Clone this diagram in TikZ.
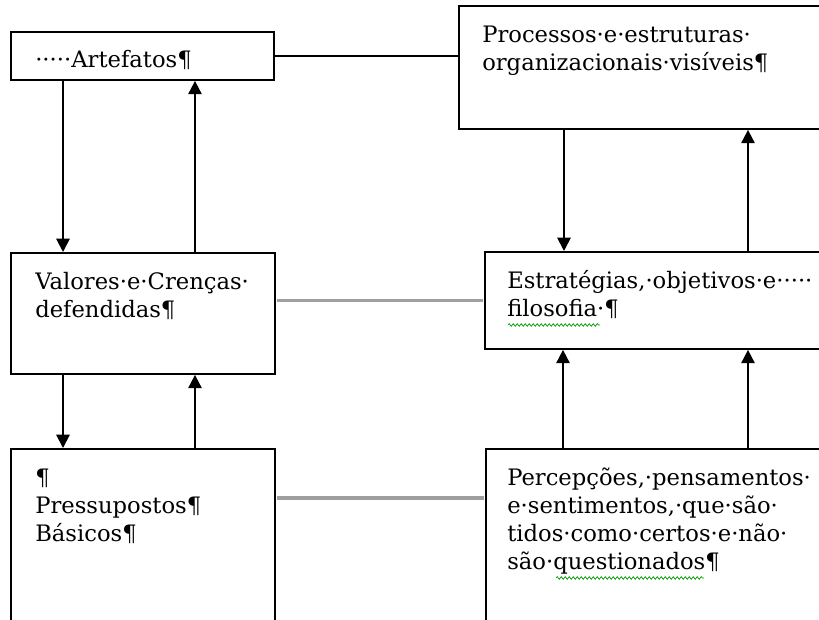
\documentclass[tikz,border=0pt]{standalone}
\usepackage{fontspec}
\setmainfont{DejaVu Serif}
\usetikzlibrary{arrows.meta,calc,decorations.pathmorphing}

\newcommand{\px}{0.75pt}
\newcommand{\linhas}[1]{\begin{tabular}[t]{@{}l@{}}#1\end{tabular}}

\tikzset{
  caixa/.style={draw,line width=1.4pt,anchor=north west,inner sep=0pt},
  texto/.style={anchor=base west,inner sep=0pt,font=\fontsize{17}{21}\selectfont},
  seta/.style={line width=1.4pt,-{Triangle[width=10pt,length=10pt]}},
  ligacao/.style={line width=1.4pt},
  cinza/.style={gray!75,line width=2.5pt,shorten <=0.7pt,shorten >=0.7pt},
  onda/.style={green!60!black,line width=0.5pt,decorate,
    decoration={snake,amplitude=1pt,segment length=3pt}}
}

\begin{document}
\begin{tikzpicture}[x=\px,y=-\px]

  \useasboundingbox (0,0) rectangle (819,619);
  \clip (0,0) rectangle (819,619);

  % Caixas
  \node[caixa,minimum width=263*\px,minimum height=48*\px]  (artefatos)    at (10,31)  {};
  \node[caixa,minimum width=380*\px,minimum height=123*\px] (processos)    at (458,5)  {};
  \node[caixa,minimum width=264*\px,minimum height=121*\px] (valores)      at (10,252) {};
  \node[caixa,minimum width=350*\px,minimum height=97*\px]  (estrategias)  at (484,251) {};
  \node[caixa,minimum width=264*\px,minimum height=200*\px] (pressupostos) at (10,448) {};
  \node[caixa,minimum width=350*\px,minimum height=200*\px] (percepcoes)   at (485,448) {};

  % Textos
  \node[texto] (t-artefatos)    at ($(artefatos.north west)+(25,36)$)    {·····Artefatos¶};
  \node[texto] (t-processos)    at ($(processos.north west)+(24,37)$)    {\linhas{Processos·e·estruturas·\\organizacionais·visíveis¶}};
  \node[texto] (t-valores)      at ($(valores.north west)+(25,37)$)      {\linhas{Valores·e·Crenças·\\defendidas¶}};
  \node[texto] (t-estrategias)  at ($(estrategias.north west)+(23,37)$)  {\linhas{Estratégias,·objetivos·e·····\\filosofia·¶}};
  \node[texto] (t-pressupostos) at ($(pressupostos.north west)+(25,37)$) {\linhas{¶\\Pressupostos¶\\Básicos¶}};
  \node[texto] (t-percepcoes)   at ($(percepcoes.north west)+(22,37)$)   {\linhas{Percepções,·pensamentos·\\e·sentimentos,·que·são·\\tidos·como·certos·e·não·\\são·questionados¶}};

  % Sublinhado ondulado
  \draw[onda] ($(estrategias.north west)+(24,74)$) -- ++(92,0);
  \draw[onda] ($(percepcoes.north west)+(71,130)$) -- ++(148,0);

  % Ligacoes horizontais
  \draw[ligacao] (artefatos.east) -- (artefatos.east -| processos.west);
  \draw[cinza] (estrategias.west -| valores.east) -- (estrategias.west);
  \coordinate (m-baixo) at ($(percepcoes.north west)+(0,50)$);
  \draw[cinza] (m-baixo -| pressupostos.east) -- (m-baixo);

  % Setas da coluna esquerda
  \foreach \a/\b in {artefatos/valores, valores/pressupostos} {
    \coordinate (desce) at ($(\a.south west)+(53,0)$);
    \coordinate (sobe)  at ($(\a.south west)+(185,0)$);
    \draw[seta] (desce) -- (desce |- \b.north);
    \draw[seta] (sobe |- \b.north) -- (sobe);
  }

  % Setas da coluna direita
  \coordinate (p-desce) at ($(processos.south west)+(106,0)$);
  \coordinate (p-sobe)  at ($(estrategias.north west)+(264,0)$);
  \draw[seta] (p-desce) -- (p-desce |- estrategias.north);
  \draw[seta] (p-sobe) -- (p-sobe |- processos.south);
  \foreach \dx in {78,263} {
    \coordinate (q-sobe) at ($(percepcoes.north west)+(\dx,0)$);
    \draw[seta] (q-sobe) -- (q-sobe |- estrategias.south);
  }

\end{tikzpicture}
\end{document}
